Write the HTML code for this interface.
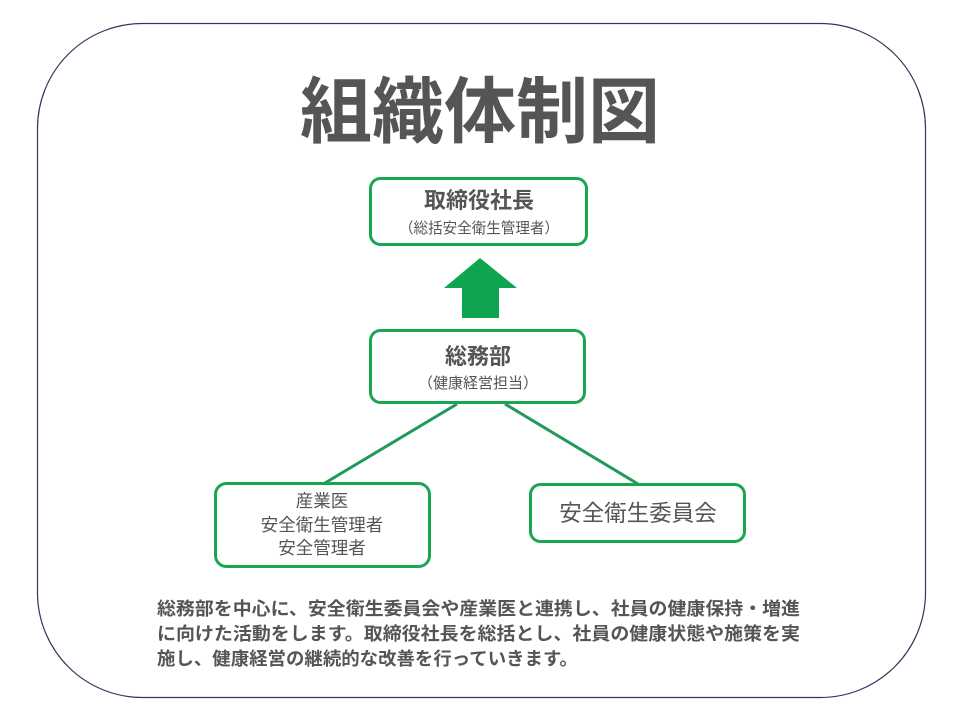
<!DOCTYPE html>
<html><head><meta charset="utf-8"><style>
html,body{margin:0;padding:0;background:#fff;}
svg{display:block;}
text{font-family:"Liberation Sans","Noto Sans CJK JP",sans-serif;fill:#555;}
</style></head><body>
<svg width="960" height="720" viewBox="0 0 960 720" xmlns="http://www.w3.org/2000/svg">
<rect x="37.5" y="23.5" width="888" height="674" rx="105" ry="105" fill="#fff" stroke="#2a3a5a" stroke-width="1.2"/>
<text x="480" y="137" text-anchor="middle" font-size="72" font-weight="bold" fill="#595959">組織体制図</text>
<line x1="457" y1="404" x2="325" y2="483" stroke="#1f9a5a" stroke-width="3"/>
<line x1="505" y1="404" x2="638" y2="484" stroke="#1f9a5a" stroke-width="3"/>
<rect x="370.5" y="178.5" width="216" height="66" rx="10" fill="#fff" stroke="#1aa552" stroke-width="3"/>
<text x="479" y="208" text-anchor="middle" font-size="22" font-weight="bold">取締役社長</text>
<text x="479" y="233" text-anchor="middle" font-size="15" textLength="160" lengthAdjust="spacingAndGlyphs">（総括安全衛生管理者）</text>
<polygon points="480,258 517,288 499,288 499,318 462,318 462,288 444,288" fill="#0fa550"/>
<rect x="370.5" y="330.5" width="214" height="72" rx="10" fill="#fff" stroke="#1aa552" stroke-width="3"/>
<text x="478" y="364" text-anchor="middle" font-size="22" font-weight="bold">総務部</text>
<text x="478" y="388" text-anchor="middle" font-size="15">（健康経営担当）</text>
<rect x="215.5" y="483.5" width="214" height="83" rx="11" fill="#fff" stroke="#1aa552" stroke-width="3"/>
<text x="322" y="507" text-anchor="middle" font-size="17.5">産業医</text>
<text x="322" y="531" text-anchor="middle" font-size="17.5">安全衛生管理者</text>
<text x="322" y="554" text-anchor="middle" font-size="17.5">安全管理者</text>
<rect x="530.5" y="484.5" width="214" height="57" rx="10" fill="#fff" stroke="#1aa552" stroke-width="3"/>
<text x="638" y="521" text-anchor="middle" font-size="22.5">安全衛生委員会</text>
<text x="157" y="615" font-size="18" font-weight="bold" fill="#505050" textLength="643" lengthAdjust="spacingAndGlyphs">総務部を中心に、安全衛生委員会や産業医と連携し、社員の健康保持・増進</text>
<text x="157" y="640" font-size="18" font-weight="bold" fill="#505050" textLength="643" lengthAdjust="spacingAndGlyphs">に向けた活動をします。取締役社長を総括とし、社員の健康状態や施策を実</text>
<text x="157" y="665" font-size="18" font-weight="bold" fill="#505050" textLength="421" lengthAdjust="spacingAndGlyphs">施し、健康経営の継続的な改善を行っていきます。</text>
</svg>
</body></html>
